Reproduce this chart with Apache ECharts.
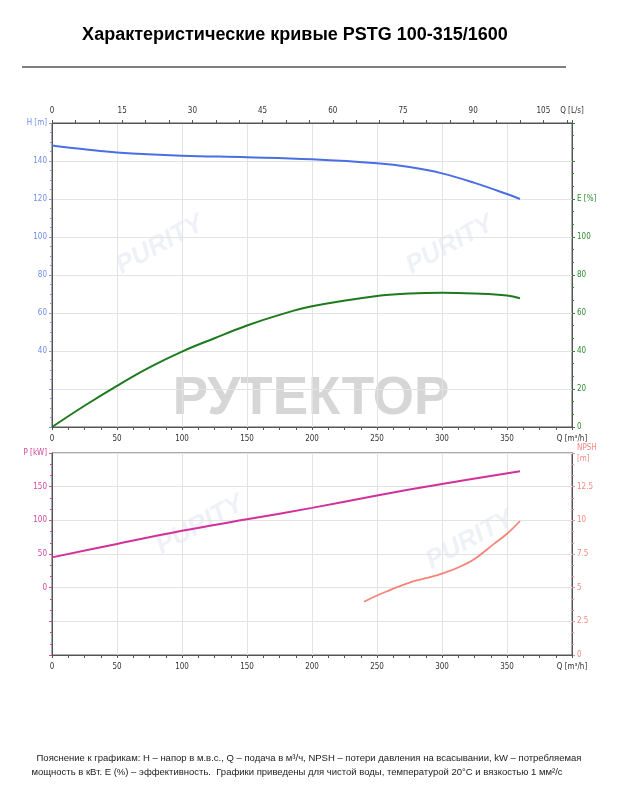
<!DOCTYPE html>
<html>
<head>
<meta charset="utf-8">
<script src="https://cdn.jsdelivr.net/npm/echarts@6/dist/echarts.min.js"></script>
<style>
  html, body { margin: 0; padding: 0; background: #fff; }
  #chart { width: 621px; height: 800px; }
</style>
</head>
<body>
<div id="chart"></div>
<script>
// H(Q) - напор
const headQ = [0, 25, 50, 100, 150, 200, 250, 275, 300, 325, 350, 360];
const headVal = [148.2, 146.2, 144.5, 142.8, 142.0, 140.9, 138.8, 136.8, 133.5, 128.5, 122.6, 120];

// E(Q) - КПД
const effQ = [0, 25, 50, 75, 100, 125, 150, 175, 200, 250, 275, 300, 325, 350, 360];
const effVal = [0, 11.2, 21.7, 31.4, 39.7, 46.7, 53.4, 59.0, 63.5, 68.9, 70.2, 70.6, 70.2, 69.2, 67.8];

// P(Q) - мощность
const powerQ = [0, 50, 100, 150, 200, 250, 300, 360];
const powerVal = [45, 65, 84.5, 101.5, 118.5, 137, 154, 173];

// NPSH(Q)
const npshQ = [240, 250, 260, 275, 287.5, 300, 312.5, 325, 340, 350, 360];
const npshVal = [3.95, 4.42, 4.82, 5.38, 5.7, 6.05, 6.5, 7.13, 8.25, 9.0, 9.95];

const zip = (xs, ys) => xs.map((x, i) => [x, ys[i]]);

const smallFont = "'Liberation Sans Narrow', 'DejaVu Sans Condensed', 'Liberation Sans', sans-serif";
const gridColor = '#e3e3e3';
const axisColor = '#555';

const chart = echarts.init(document.getElementById('chart'));

function yAx(opt) {
  return Object.assign({
    type: 'value',
    axisLine: { show: true, onZero: false, lineStyle: { color: axisColor } },
    axisTick: { show: true, length: 3, lineStyle: { color: opt.tickColor || axisColor } },
    minorTick: { show: true, splitNumber: opt.minor || 4, length: 2, lineStyle: { color: opt.tickColor || axisColor } },
    splitLine: { show: false },
  }, opt.base);
}

function qAxis(gridIndex) {
  return {
    gridIndex: gridIndex, type: 'value', min: 0, max: 400, interval: 50, position: 'bottom',
    axisLine: { onZero: false, lineStyle: { color: axisColor } },
    axisTick: { length: 3, lineStyle: { color: axisColor } },
    minorTick: { show: true, splitNumber: 4, length: 3, lineStyle: { color: axisColor } },
    splitLine: { show: true, lineStyle: { color: gridColor } },
    axisLabel: {
      fontSize: 8, color: '#333', fontFamily: smallFont, margin: 8,
      formatter: v => v === 400 ? 'Q [m³/h]' : String(v)
    }
  };
}

const wmFont = "italic bold 26px 'Liberation Sans', sans-serif";
const wmFill = 'rgba(195,205,225,0.28)';

const option = {
  backgroundColor: '#fff',
  animation: false,
  grid: [
    { left: 52, top: 123, width: 520, height: 304, show: true, borderColor: axisColor, borderWidth: 1 },
    { left: 52, top: 453, width: 520, height: 202, show: true, borderColor: axisColor, borderWidth: 1 }
  ],
  xAxis: [
    qAxis(0),
    {
      gridIndex: 0, type: 'value', min: 0, max: 400 / 3.6, interval: 5, position: 'top',
      axisLine: { onZero: false, lineStyle: { color: axisColor } },
      axisTick: { length: 3, lineStyle: { color: axisColor } },
      splitLine: { show: false },
      axisLabel: {
        fontSize: 8, color: '#333', fontFamily: smallFont, margin: 8,
        formatter: v => v > 111 ? 'Q [L/s]' : (v % 15 === 0 ? String(v) : '')
      }
    },
    qAxis(1)
  ],
  yAxis: [
    yAx({ minor: 4, tickColor: '#7b96e6', base: {
      gridIndex: 0, min: 0, max: 160, interval: 20, position: 'left',
      splitLine: { show: true, lineStyle: { color: gridColor } },
      axisLabel: {
        fontSize: 8, color: '#6f8fe8', fontFamily: smallFont, margin: 5,
        formatter: v => v === 160 ? 'H [m]' : (v >= 40 ? String(v) : '')
      }
    } }),
    yAx({ minor: 3, tickColor: '#2f8a2f', base: {
      gridIndex: 0, min: 0, max: 160, interval: 20, position: 'right',
      axisLabel: {
        fontSize: 8, color: '#2f8a2f', fontFamily: smallFont, margin: 5,
        formatter: v => v === 120 ? 'E [%]' : (v <= 100 ? String(v) : '')
      }
    } }),
    yAx({ minor: 3, tickColor: '#d0479e', base: {
      gridIndex: 1, min: -100, max: 200, interval: 50, position: 'left',
      splitLine: { show: true, lineStyle: { color: gridColor } },
      axisLabel: {
        fontSize: 8, color: '#d0479e', fontFamily: smallFont, margin: 5,
        formatter: v => v === 200 ? 'P [kW]' : (v >= 0 ? String(v) : '')
      }
    } }),
    yAx({ minor: 3, tickColor: '#f28a80', base: {
      gridIndex: 1, min: 0, max: 15, interval: 2.5, position: 'right',
      axisLabel: {
        fontSize: 8, color: '#f28a80', fontFamily: smallFont, margin: 5, lineHeight: 11,
        formatter: v => v === 15 ? 'NPSH\n[m]' : String(v)
      }
    } })
  ],
  series: [
    {
      name: 'H', type: 'line', xAxisIndex: 0, yAxisIndex: 0, smooth: 0.4, showSymbol: false,
      lineStyle: { color: '#4a6fe3', width: 2 }, data: zip(headQ, headVal)
    },
    {
      name: 'E', type: 'line', xAxisIndex: 0, yAxisIndex: 1, smooth: 0.4, showSymbol: false,
      lineStyle: { color: '#1f7a1f', width: 2 }, data: zip(effQ, effVal)
    },
    {
      name: 'P', type: 'line', xAxisIndex: 2, yAxisIndex: 2, smooth: 0.4, showSymbol: false,
      lineStyle: { color: '#d2309a', width: 2 }, data: zip(powerQ, powerVal)
    },
    {
      name: 'NPSH', type: 'line', xAxisIndex: 2, yAxisIndex: 3, smooth: 0.4, showSymbol: false,
      lineStyle: { color: '#f4857a', width: 1.8 }, data: zip(npshQ, npshVal)
    }
  ],
  graphic: [
    { type: 'text', x: 295, y: 35, style: {
      text: 'Характеристические кривые PSTG 100-315/1600', fill: '#000',
      font: "bold 18px 'Liberation Sans', sans-serif", textAlign: 'center', textVerticalAlign: 'middle' } },
    { type: 'line', shape: { x1: 22, y1: 67, x2: 566, y2: 67 }, style: { stroke: '#000', lineWidth: 1 } },
    // водяные знаки
    { type: 'text', x: 311, y: 399, z: -1, style: {
      text: 'РУТЕКТОР', fill: '#d6d6d6', font: "bold 53px 'Liberation Sans', sans-serif",
      textAlign: 'center', textVerticalAlign: 'middle' } },
    { type: 'text', x: 160, y: 245, rotation: 0.5, z: -1, style: {
      text: 'PURITY', fill: wmFill, font: wmFont, textAlign: 'center', textVerticalAlign: 'middle' } },
    { type: 'text', x: 450, y: 245, rotation: 0.5, z: -1, style: {
      text: 'PURITY', fill: wmFill, font: wmFont, textAlign: 'center', textVerticalAlign: 'middle' } },
    { type: 'text', x: 200, y: 525, rotation: 0.5, z: -1, style: {
      text: 'PURITY', fill: wmFill, font: wmFont, textAlign: 'center', textVerticalAlign: 'middle' } },
    { type: 'text', x: 470, y: 540, rotation: 0.5, z: -1, style: {
      text: 'PURITY', fill: wmFill, font: wmFont, textAlign: 'center', textVerticalAlign: 'middle' } },
    // пояснение
    { type: 'text', x: 309, y: 758, style: {
      text: 'Пояснение к графикам: H – напор в м.в.с., Q – подача в м³/ч, NPSH – потери давления на всасывании, kW – потребляемая',
      fill: '#222', font: "9.5px 'Liberation Sans Narrow', 'Liberation Sans', sans-serif",
      textAlign: 'center', textVerticalAlign: 'middle' } },
    { type: 'text', x: 297, y: 772, style: {
      text: 'мощность в кВт. E (%) – эффективность.  Графики приведены для чистой воды, температурой 20°C и вязкостью 1 мм²/с',
      fill: '#222', font: "9.5px 'Liberation Sans Narrow', 'Liberation Sans', sans-serif",
      textAlign: 'center', textVerticalAlign: 'middle' } }
  ]
};

chart.setOption(option);
</script>
</body>
</html>
